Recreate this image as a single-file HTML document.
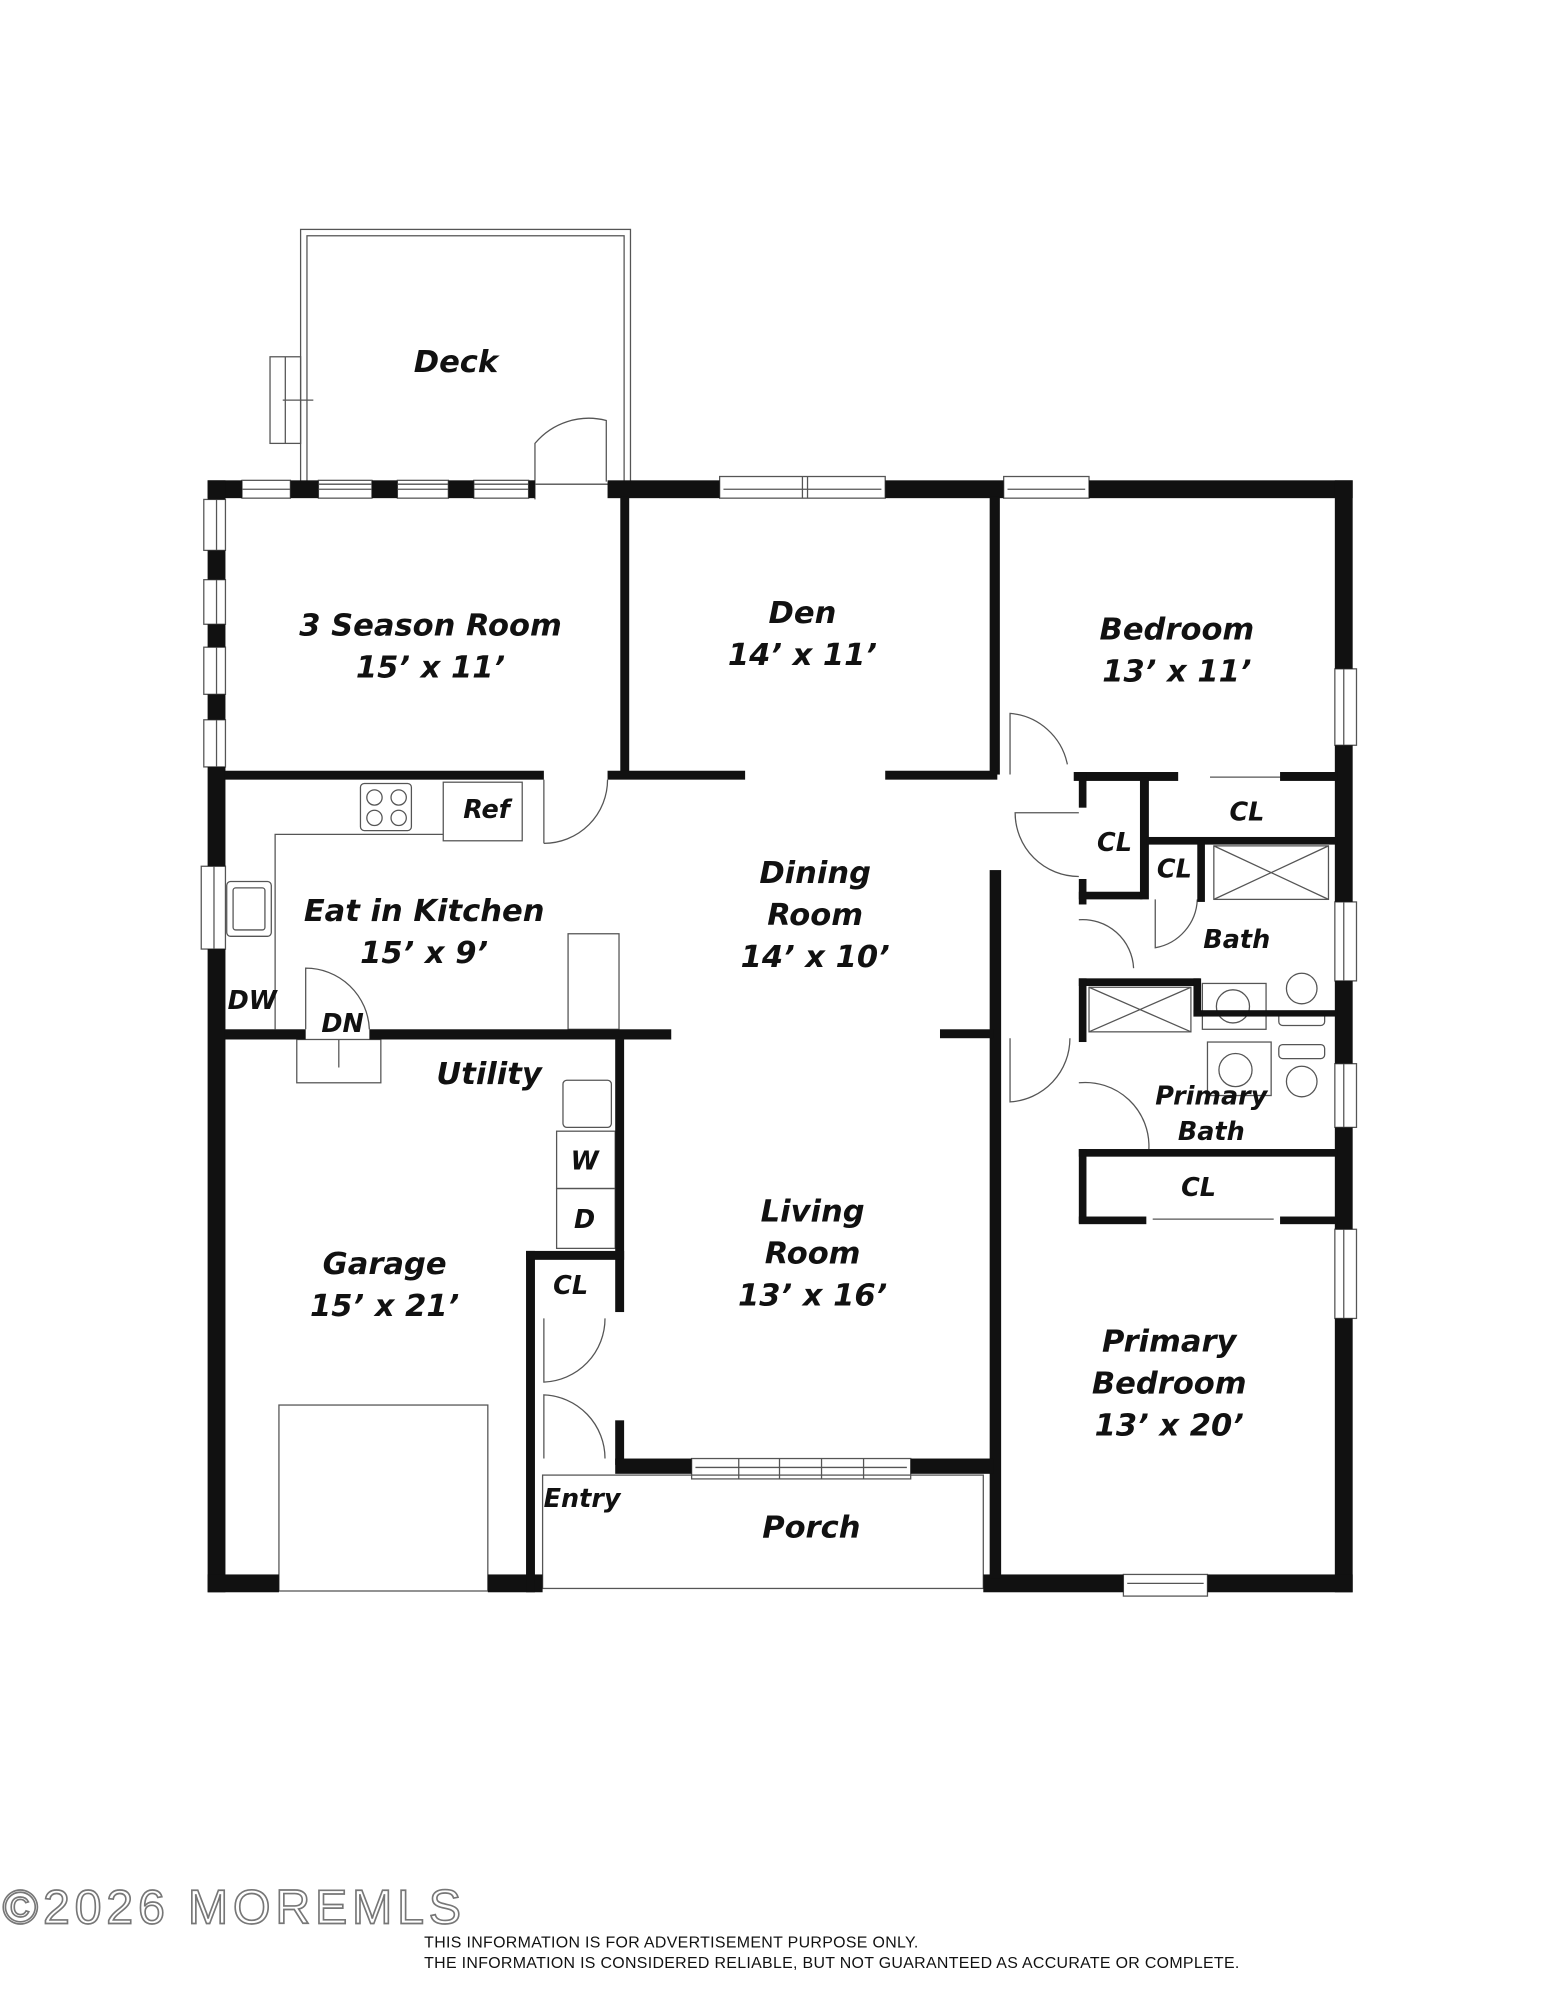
<!DOCTYPE html>
<html><head><meta charset="utf-8"><style>
html,body{margin:0;padding:0;background:#fff;}
svg{display:block;}
text.l{font-family:"DejaVu Sans","Liberation Sans",sans-serif;font-weight:bold;font-style:oblique;fill:#111;}
text.f{font-family:"Liberation Sans",sans-serif;font-weight:normal;font-style:normal;fill:#111;}
</style></head><body>
<svg width="1545" height="2000" viewBox="0 0 1213 1570" xmlns="http://www.w3.org/2000/svg">
<g fill="none" stroke="#555" stroke-width="1">
<!-- deck -->
<rect x="236" y="180" width="259" height="200"/>
<rect x="241" y="185" width="249" height="195"/>
<rect x="212" y="280" width="24" height="68"/>
<line x1="224" y1="280" x2="224" y2="348"/>
<line x1="222" y1="314" x2="246" y2="314"/>
<!-- windows top -->
<g>
<rect x="190" y="377" width="38" height="14"/><line x1="190" y1="384" x2="228" y2="384"/>
<rect x="250" y="377" width="42" height="14"/><line x1="250" y1="384" x2="292" y2="384"/>
<rect x="312" y="377" width="40" height="14"/><line x1="312" y1="384" x2="352" y2="384"/>
<rect x="372" y="377" width="43" height="14"/><line x1="372" y1="384" x2="415" y2="384"/>
<rect x="565" y="374" width="130" height="17"/><line x1="568" y1="384" x2="692" y2="384"/><line x1="630" y1="374" x2="630" y2="391"/><line x1="634" y1="374" x2="634" y2="391"/>
<rect x="788" y="374" width="67" height="17"/><line x1="791" y1="384" x2="852" y2="384"/>
<!-- left -->
<rect x="160" y="392" width="17" height="40"/><line x1="170" y1="392" x2="170" y2="432"/>
<rect x="160" y="455" width="17" height="35"/><line x1="170" y1="455" x2="170" y2="490"/>
<rect x="160" y="508" width="17" height="37"/><line x1="170" y1="508" x2="170" y2="545"/>
<rect x="160" y="565" width="17" height="37"/><line x1="170" y1="565" x2="170" y2="602"/>
<rect x="158" y="680" width="19" height="65"/><line x1="168" y1="680" x2="168" y2="745"/>
<!-- right -->
<rect x="1048" y="525" width="17" height="60"/><line x1="1055" y1="525" x2="1055" y2="585"/>
<rect x="1048" y="708" width="17" height="62"/><line x1="1055" y1="708" x2="1055" y2="770"/>
<rect x="1048" y="835" width="17" height="50"/><line x1="1055" y1="835" x2="1055" y2="885"/>
<rect x="1048" y="965" width="17" height="70"/><line x1="1055" y1="965" x2="1055" y2="1035"/>
<!-- bottom -->
<rect x="882" y="1236" width="66" height="17"/><line x1="885" y1="1243" x2="945" y2="1243"/>
<rect x="543" y="1145" width="172" height="16"/><line x1="546" y1="1152" x2="712" y2="1152"/>
<line x1="580" y1="1145" x2="580" y2="1161"/><line x1="612" y1="1145" x2="612" y2="1161"/><line x1="645" y1="1145" x2="645" y2="1161"/><line x1="678" y1="1145" x2="678" y2="1161"/>
</g>
<!-- porch -->
<rect x="426" y="1158" width="346" height="89"/>
<!-- garage door -->
<rect x="219" y="1103" width="164" height="146"/>
<!-- kitchen counters -->
<polyline points="348,655 216,655 216,808"/>
<rect x="283" y="615" width="40" height="37" rx="3"/>
<circle cx="294" cy="626" r="6"/><circle cx="313" cy="626" r="6"/>
<circle cx="294" cy="642" r="6"/><circle cx="313" cy="642" r="6"/>
<rect x="348" y="614" width="62" height="46"/>
<rect x="178" y="692" width="35" height="43" rx="3"/>
<rect x="183" y="697" width="25" height="33" rx="2"/>
<rect x="446" y="733" width="40" height="75"/>
<rect x="233" y="816" width="66" height="34"/>
<line x1="266" y1="816" x2="266" y2="838"/>
<rect x="442" y="848" width="38" height="37" rx="3"/>
<rect x="437" y="888" width="46" height="45"/>
<rect x="437" y="933" width="46" height="47"/>
<!-- bath fixtures -->
<rect x="953" y="664" width="90" height="42"/>
<line x1="953" y1="664" x2="1043" y2="706"/><line x1="1043" y1="664" x2="953" y2="706"/>
<rect x="855" y="775" width="80" height="35"/>
<line x1="855" y1="775" x2="935" y2="810"/><line x1="935" y1="775" x2="855" y2="810"/>
<rect x="944" y="772" width="50" height="36"/><circle cx="968" cy="790" r="13"/>
<rect x="948" y="818" width="50" height="42"/><circle cx="970" cy="840" r="13"/>
<circle cx="1022" cy="776" r="12"/><rect x="1004" y="794" width="36" height="11" rx="3"/>
<circle cx="1022" cy="849" r="12"/><rect x="1004" y="820" width="36" height="11" rx="3"/>
<!-- doors -->
<path d="M420 392 L420 348 A55 55 0 0 1 476 330 L476 378"/>
<path d="M427 662 A50 50 0 0 0 477 612"/><line x1="427" y1="612" x2="427" y2="662"/>
<path d="M240 808 L240 760 A50 50 0 0 1 290 808"/>
<path d="M793 608 L793 560 A50 50 0 0 1 838 600"/>
<path d="M847 638 L797 638 A50 50 0 0 0 847 688"/>
<path d="M847 722 A40 40 0 0 1 890 760"/>
<path d="M907 706 L907 744 A40 40 0 0 0 940 706"/>
<path d="M793 815 L793 865 A50 50 0 0 0 840 815"/>
<path d="M847 850 A50 50 0 0 1 902 902"/>
<path d="M427 1035 L427 1085 A50 50 0 0 0 475 1035"/>
<path d="M427 1145 L427 1095 A50 50 0 0 1 475 1145"/>
<line x1="950" y1="610" x2="1030" y2="610"/>
<line x1="905" y1="957" x2="1000" y2="957"/>
</g>
<g fill="#111">
<rect x="163" y="377" width="27" height="14"/>
<rect x="228" y="377" width="22" height="14"/>
<rect x="292" y="377" width="20" height="14"/>
<rect x="352" y="377" width="20" height="14"/>
<rect x="415" y="377" width="5" height="14"/>
<rect x="477" y="377" width="88" height="14"/>
<rect x="695" y="377" width="93" height="14"/>
<rect x="855" y="377" width="207" height="14"/>
<rect x="163" y="377" width="14" height="15"/>
<rect x="163" y="432" width="14" height="23"/>
<rect x="163" y="490" width="14" height="18"/>
<rect x="163" y="545" width="14" height="20"/>
<rect x="163" y="602" width="14" height="78"/>
<rect x="163" y="745" width="14" height="505"/>
<rect x="1048" y="377" width="14" height="148"/>
<rect x="1048" y="585" width="14" height="123"/>
<rect x="1048" y="770" width="14" height="65"/>
<rect x="1048" y="885" width="14" height="80"/>
<rect x="1048" y="1035" width="14" height="215"/>
<rect x="163" y="1236" width="56" height="14"/>
<rect x="383" y="1236" width="43" height="14"/>
<rect x="772" y="1236" width="110" height="14"/>
<rect x="948" y="1236" width="114" height="14"/>
<rect x="487" y="390" width="7" height="218"/>
<rect x="777" y="390" width="8" height="218"/>
<rect x="176" y="605" width="251" height="7"/>
<rect x="477" y="605" width="108" height="7"/>
<rect x="695" y="605" width="88" height="7"/>
<rect x="777" y="683" width="9" height="556"/>
<rect x="176" y="808" width="64" height="8"/>
<rect x="290" y="808" width="237" height="8"/>
<rect x="738" y="808" width="42" height="7"/>
<rect x="483" y="816" width="7" height="214"/>
<rect x="483" y="1115" width="7" height="35"/>
<rect x="483" y="1145" width="60" height="12"/>
<rect x="715" y="1145" width="65" height="12"/>
<rect x="413" y="982" width="7" height="268"/>
<rect x="413" y="982" width="77" height="7"/>
<rect x="843" y="606" width="82" height="7"/>
<rect x="1005" y="606" width="45" height="7"/>
<rect x="847" y="606" width="6" height="28"/>
<rect x="847" y="690" width="6" height="20"/>
<rect x="847" y="700" width="50" height="6"/>
<rect x="895" y="610" width="7" height="96"/>
<rect x="900" y="657" width="150" height="6"/>
<rect x="940" y="660" width="6" height="48"/>
<rect x="847" y="768" width="95" height="6"/>
<rect x="937" y="768" width="6" height="30"/>
<rect x="937" y="793" width="113" height="5"/>
<rect x="847" y="768" width="6" height="50"/>
<rect x="847" y="902" width="203" height="6"/>
<rect x="847" y="902" width="6" height="58"/>
<rect x="847" y="955" width="53" height="6"/>
<rect x="1005" y="955" width="45" height="6"/>
</g>
<g font-size="24" text-anchor="middle">
<text class="l" x="358" y="292">Deck</text>
<text class="l" x="338" y="499">3 Season Room</text>
<text class="l" x="338" y="532">15’ x 11’</text>
<text class="l" x="630" y="489">Den</text>
<text class="l" x="630" y="522">14’ x 11’</text>
<text class="l" x="924" y="502">Bedroom</text>
<text class="l" x="924" y="535">13’ x 11’</text>
<text class="l" x="640" y="693">Dining</text>
<text class="l" x="640" y="726">Room</text>
<text class="l" x="640" y="759">14’ x 10’</text>
<text class="l" x="333" y="723">Eat in Kitchen</text>
<text class="l" x="333" y="756">15’ x 9’</text>
<text class="l" x="638" y="959">Living</text>
<text class="l" x="638" y="992">Room</text>
<text class="l" x="638" y="1025">13’ x 16’</text>
<text class="l" x="302" y="1000">Garage</text>
<text class="l" x="302" y="1033">15’ x 21’</text>
<text class="l" x="918" y="1061">Primary</text>
<text class="l" x="918" y="1094">Bedroom</text>
<text class="l" x="918" y="1127">13’ x 20’</text>
<text class="l" x="637" y="1207">Porch</text>
<text class="l" x="384" y="851">Utility</text>
</g>
<g font-size="20" text-anchor="middle">
<text class="l" x="382" y="642">Ref</text>
<text class="l" x="979" y="644">CL</text>
<text class="l" x="875" y="668">CL</text>
<text class="l" x="922" y="689">CL</text>
<text class="l" x="971" y="744">Bath</text>
<text class="l" x="951" y="867">Primary</text>
<text class="l" x="951" y="895">Bath</text>
<text class="l" x="941" y="939">CL</text>
<text class="l" x="198" y="792">DW</text>
<text class="l" x="269" y="810">DN</text>
<text class="l" x="459" y="918">W</text>
<text class="l" x="459" y="964">D</text>
<text class="l" x="448" y="1016">CL</text>
<text class="l" x="457" y="1183">Entry</text>
</g>
<text class="f" x="2" y="1510" font-size="38" textLength="360" style="fill:#fff;stroke:#777;stroke-width:1.3">©2026 MOREMLS</text>
<text class="f" x="333" y="1529" font-size="12.5" textLength="388">THIS INFORMATION IS FOR ADVERTISEMENT PURPOSE ONLY.</text>
<text class="f" x="333" y="1545" font-size="12.5" textLength="640">THE INFORMATION IS CONSIDERED RELIABLE, BUT NOT GUARANTEED AS ACCURATE OR COMPLETE.</text>
</svg>
</body></html>
